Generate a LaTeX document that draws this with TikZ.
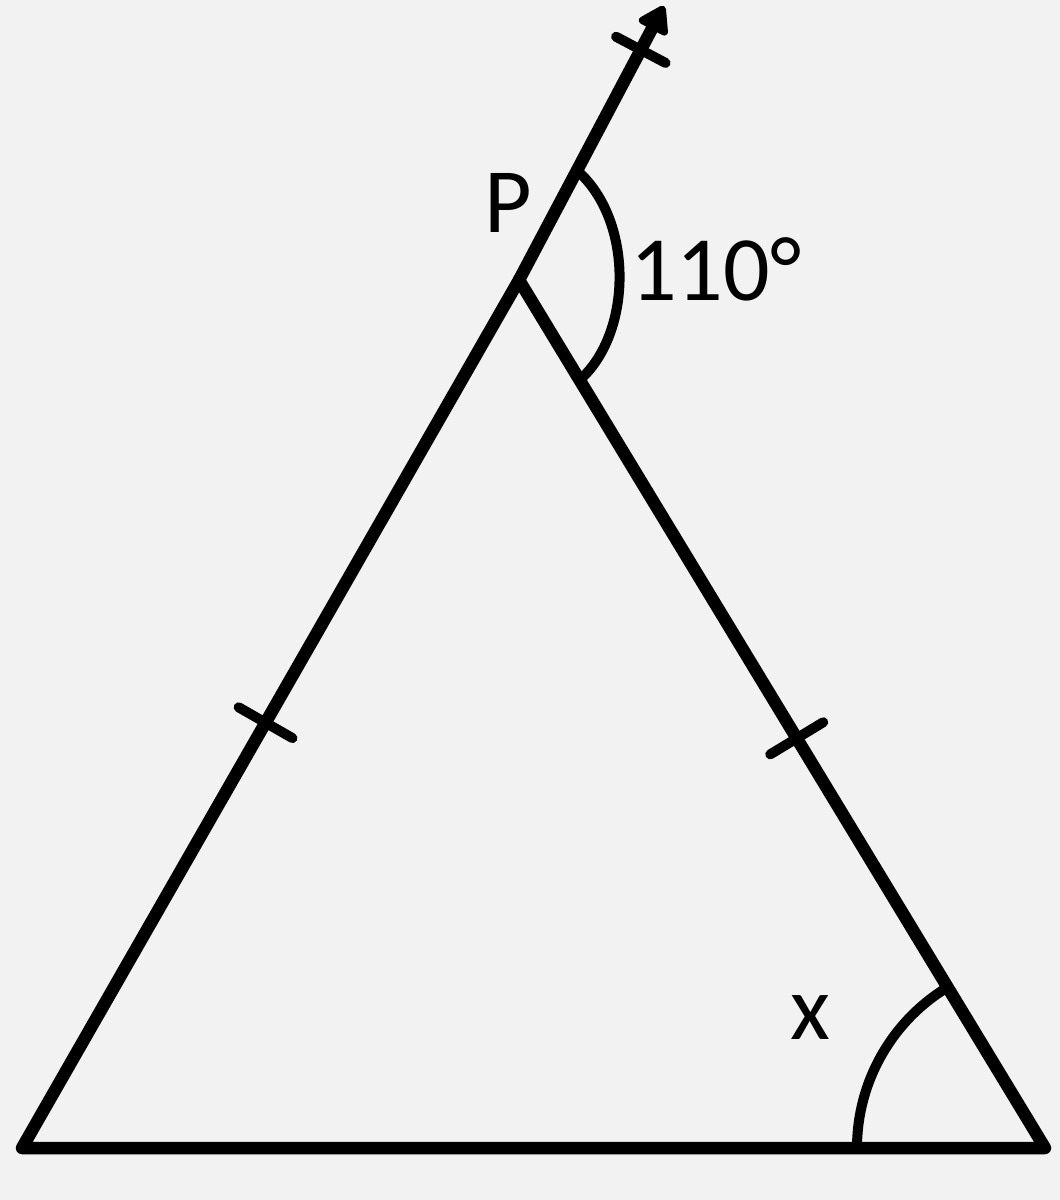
\documentclass[tikz,border=0pt]{standalone}
\usepackage{fontspec}
\setmainfont{Carlito}
\usetikzlibrary{calc,arrows.meta}
\definecolor{bg}{HTML}{F2F2F2}
\tikzset{
  edge/.style={line width=12.5pt, line cap=round, line join=round},
  tickmark/.style={line width=10pt, line cap=round},
  anglearc/.style={line width=10pt},
  lbl/.style={inner sep=0pt, font=\fontsize{92}{92}\selectfont}
}
\begin{document}
\begin{tikzpicture}[x=1pt,y=1pt]
\fill[bg] (0,0) rectangle (1060,-1200);
\useasboundingbox (0,0) rectangle (1060,-1200);
\coordinate (A) at (22,-1148);
\coordinate (R) at (1045,-1148);
\coordinate (P) at (519,-280);
\coordinate (T) at (664,-6);
% triangle
\draw[edge] (A) -- (P) -- (R) -- cycle;
% extension with arrow
\draw[edge, line cap=butt, -{Triangle[length=30pt,width=36pt,round]}] (P) -- (T);
% ticks
\coordinate (t1) at ($(A)!0.49!(P)$);
\coordinate (t2) at ($(P)!0.528!(R)$);
\coordinate (t3) at ($(P)!0.84!(T)$);
\draw[tickmark] ($(t1)!31pt!90:(P)$) -- ($(t1)!31pt!-90:(P)$);
\draw[tickmark] ($(t2)!31pt!90:(R)$) -- ($(t2)!31pt!-90:(R)$);
\draw[tickmark] ($(t3)!28pt!90:(T)$) -- ($(t3)!28pt!-90:(T)$);
% angle at P
\coordinate (a1) at ($(P)!124pt!(T)$);
\coordinate (a2) at ($(P)!117pt!(R)$);
\draw[anglearc] (a1) .. controls ($(a1)+(57,-50)$) and ($(a2)+(53,47)$) .. (a2);
% angle at R
\draw[anglearc] ($(R)+(-188,0)$) arc[start angle=180, end angle=121, radius=188pt];
% labels
\node[lbl] (lP) at (508,-203) {P};
\node[lbl, anchor=west] (lang) at (630,-269) {110°};
\node[lbl] (lx) at (810,-1018) {x};
\end{tikzpicture}
\end{document}
